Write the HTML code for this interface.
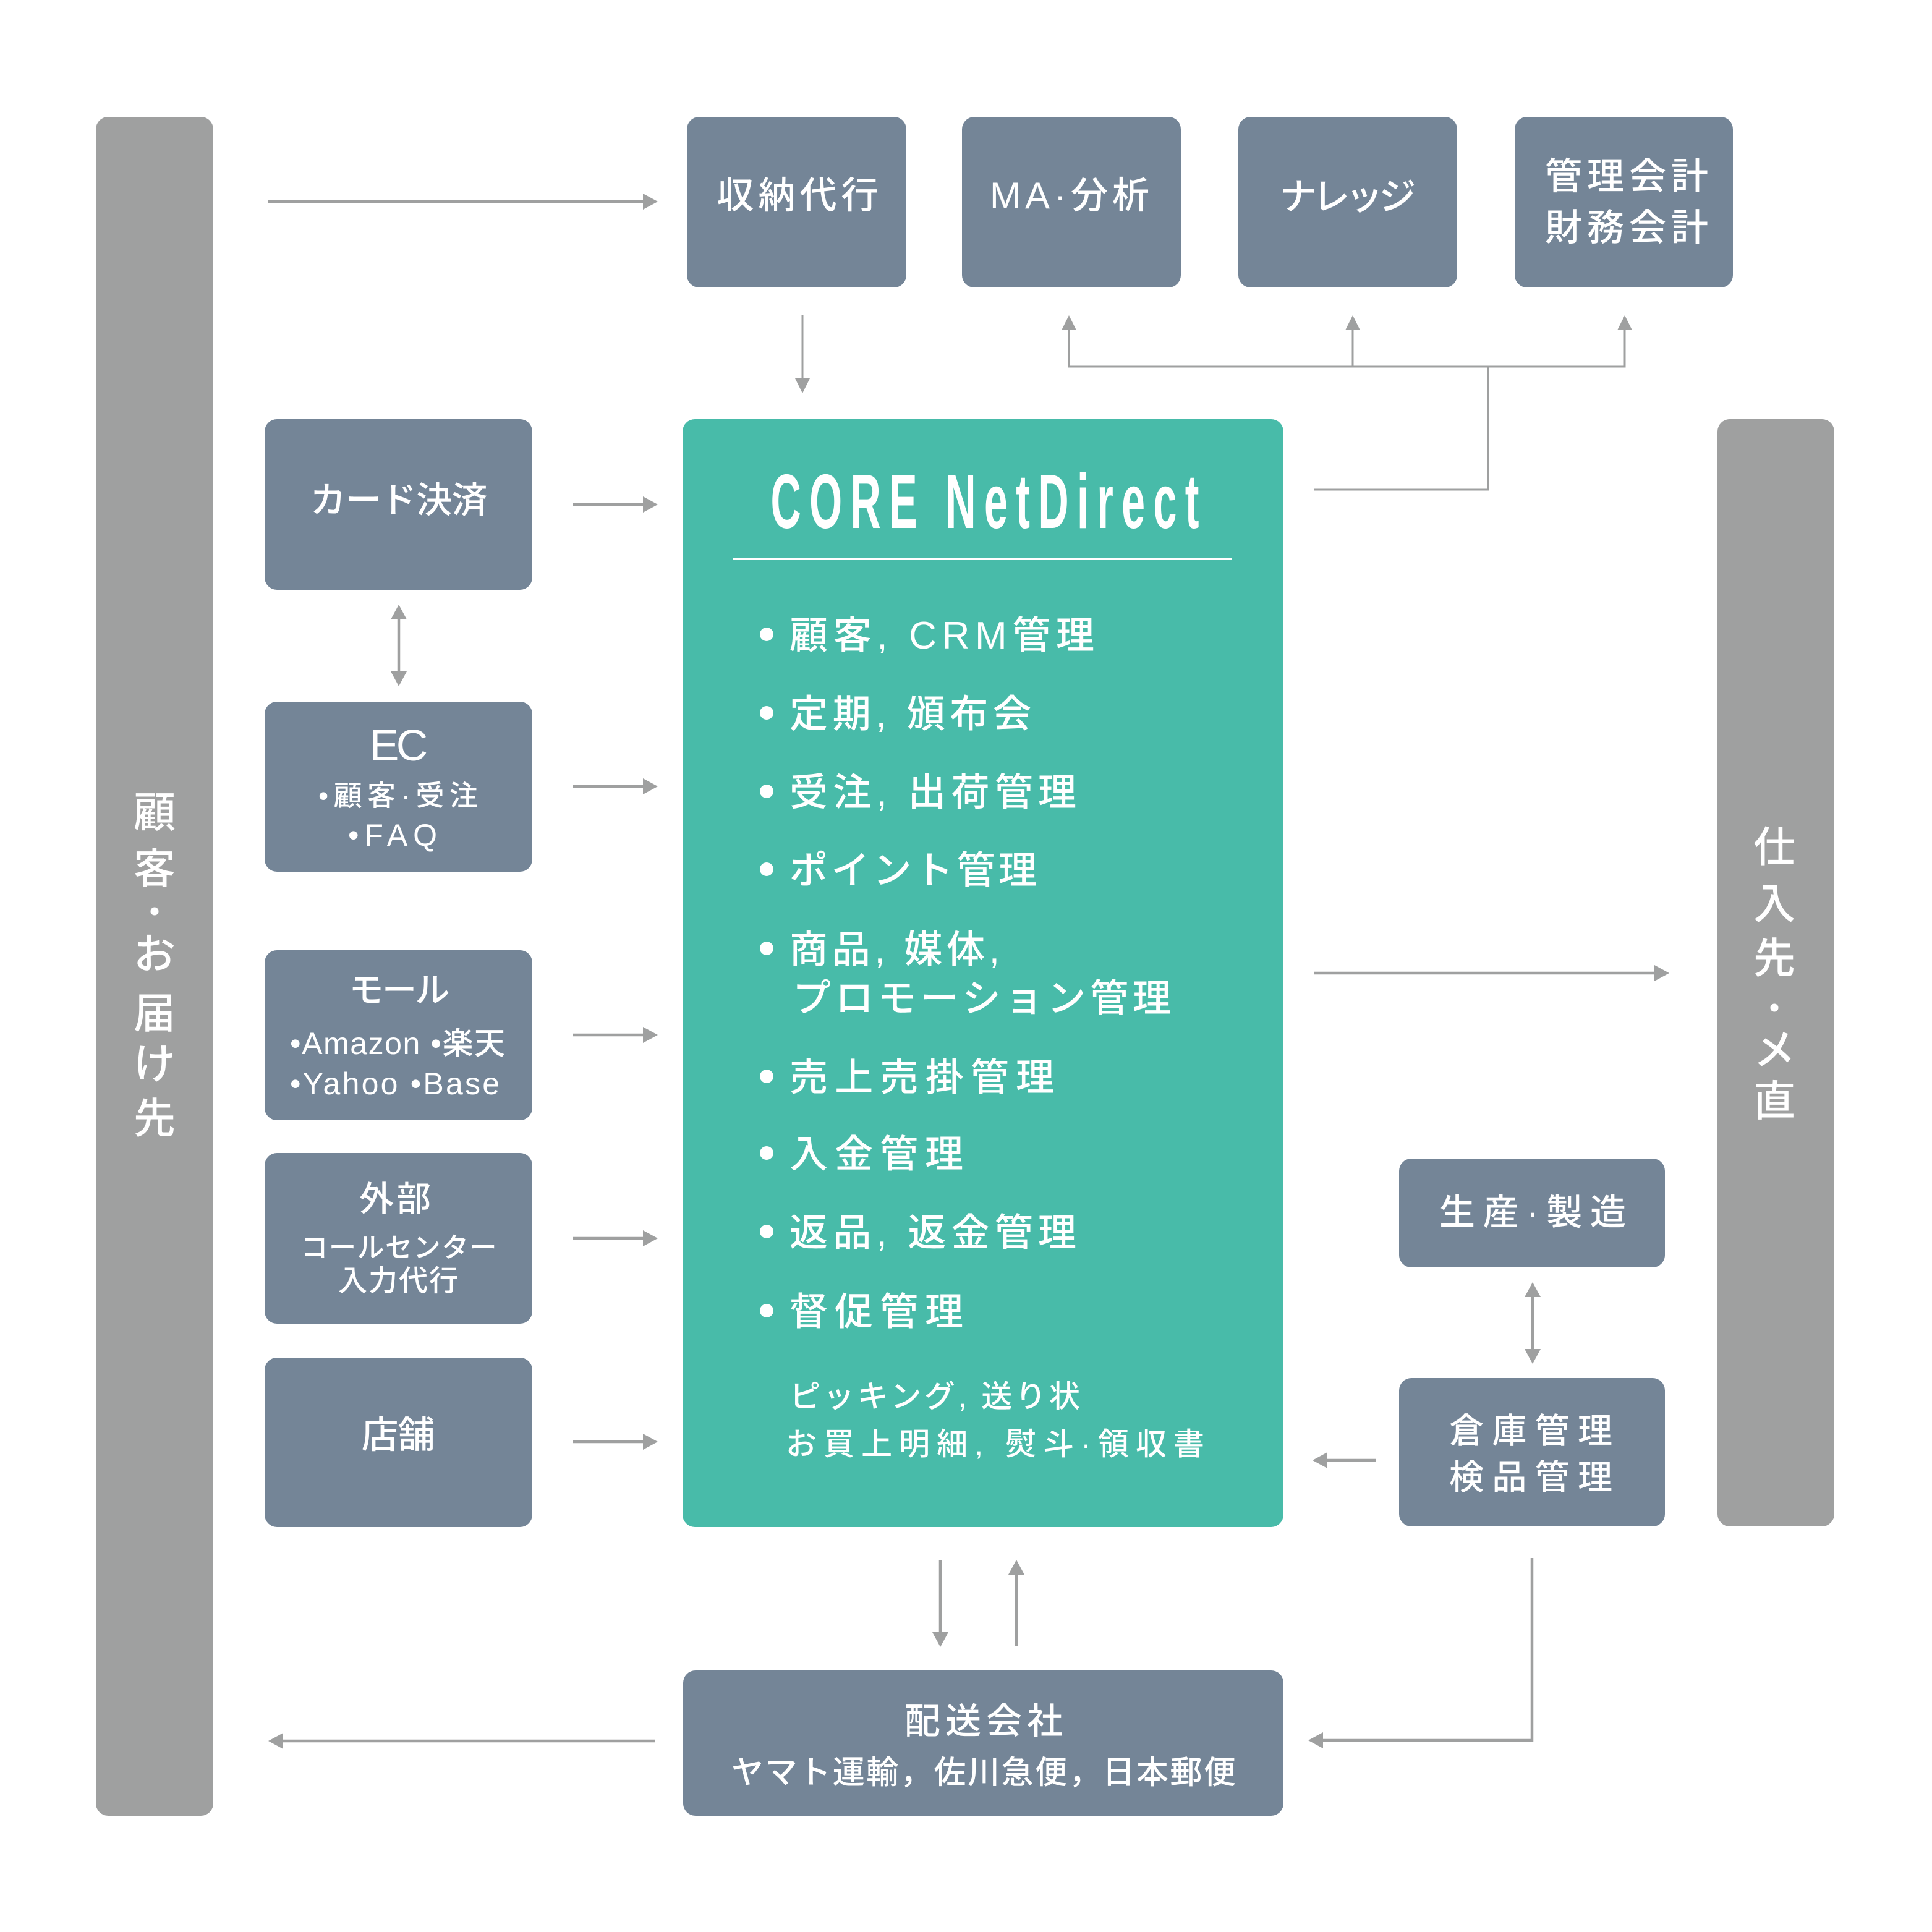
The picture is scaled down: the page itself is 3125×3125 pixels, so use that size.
<!DOCTYPE html>
<html lang="ja">
<head>
<meta charset="utf-8">
<style>
  html,body{margin:0;padding:0;background:#fff;}
  svg{display:block;}
  .t{font-family:"Liberation Sans","Noto Sans CJK JP",sans-serif;fill:#fff;font-weight:500;}
  .ttl{font-family:"Liberation Sans",sans-serif;fill:#fff;font-weight:bold;}
</style>
</head>
<body>
<svg width="3125" height="3125" viewBox="0 0 3125 3125" xmlns="http://www.w3.org/2000/svg">
  <rect width="3125" height="3125" fill="#ffffff"/>

  <!-- side bars -->
  <rect x="155" y="189" width="190" height="2748" rx="20" fill="#9fa0a0"/>
  <rect x="2778" y="678" width="189" height="1791" rx="20" fill="#9fa0a0"/>

  <!-- slate boxes -->
  <g fill="#748597">
    <rect x="1111" y="189" width="355" height="276" rx="20"/>
    <rect x="1556" y="189" width="354" height="276" rx="20"/>
    <rect x="2003" y="189" width="354" height="276" rx="20"/>
    <rect x="2450" y="189" width="353" height="276" rx="20"/>

    <rect x="428" y="678" width="433" height="276" rx="20"/>
    <rect x="428" y="1135" width="433" height="275" rx="20"/>
    <rect x="428" y="1537" width="433" height="275" rx="20"/>
    <rect x="428" y="1865" width="433" height="276" rx="20"/>
    <rect x="428" y="2196" width="433" height="274" rx="20"/>

    <rect x="2263" y="1874" width="430" height="176" rx="20"/>
    <rect x="2263" y="2229" width="430" height="240" rx="20"/>

    <rect x="1105" y="2702" width="971" height="235" rx="20"/>
  </g>

  <!-- core box -->
  <rect x="1104" y="678" width="972" height="1792" rx="20" fill="#48bba9"/>

  <!-- connectors -->
  <g stroke="#9fa0a0" stroke-width="4.5" fill="none">
    <line x1="434" y1="326" x2="1042" y2="326"/>
    <line x1="927" y1="816" x2="1042" y2="816"/>
    <line x1="927" y1="1272" x2="1042" y2="1272"/>
    <line x1="927" y1="1674" x2="1042" y2="1674"/>
    <line x1="927" y1="2003" x2="1042" y2="2003"/>
    <line x1="927" y1="2332" x2="1042" y2="2332"/>
    <line x1="645" y1="1000" x2="645" y2="1088"/>
    <line x1="2125" y1="1574" x2="2678" y2="1574"/>
    <line x1="2479" y1="2096" x2="2479" y2="2184"/>
    <line x1="2226" y1="2362" x2="2145" y2="2362"/>
    <line x1="1521" y1="2523" x2="1521" y2="2642"/>
    <line x1="1644" y1="2663" x2="1644" y2="2545"/>
    <polyline points="2478,2520 2478,2815 2138,2815"/>
    <line x1="1060" y1="2816" x2="456" y2="2816"/>
  </g>
  <g stroke="#9fa0a0" stroke-width="3" fill="none">
    <line x1="1298" y1="510" x2="1298" y2="614"/>
    <polyline points="1729,532 1729,593 2628,593 2628,532"/>
    <line x1="2188" y1="593" x2="2188" y2="532"/>
    <polyline points="2407,593 2407,792 2125,792"/>
  </g>
  <g fill="#9fa0a0">
    <polygon points="1064,326 1040,313 1040,339"/>
    <polygon points="1064,816 1040,803 1040,829"/>
    <polygon points="1064,1272 1040,1259 1040,1285"/>
    <polygon points="1064,1674 1040,1661 1040,1687"/>
    <polygon points="1064,2003 1040,1990 1040,2016"/>
    <polygon points="1064,2332 1040,2319 1040,2345"/>
    <polygon points="645,978 632,1002 658,1002"/>
    <polygon points="645,1110 632,1086 658,1086"/>
    <polygon points="1298,636 1286,612 1310,612"/>
    <polygon points="1729,510 1717,534 1741,534"/>
    <polygon points="2188,510 2176,534 2200,534"/>
    <polygon points="2628,510 2616,534 2640,534"/>
    <polygon points="2700,1574 2676,1561 2676,1587"/>
    <polygon points="2479,2074 2466,2098 2492,2098"/>
    <polygon points="2479,2206 2466,2182 2492,2182"/>
    <polygon points="2123,2362 2147,2349 2147,2375"/>
    <polygon points="1521,2664 1508,2640 1534,2640"/>
    <polygon points="1644,2523 1631,2547 1657,2547"/>
    <polygon points="2116,2815 2140,2802 2140,2828"/>
    <polygon points="434,2816 458,2803 458,2829"/>
  </g>

  <!-- top box texts -->
  <text class="t" x="1290" y="337" font-size="60" text-anchor="middle" textLength="261" lengthAdjust="spacing">収納代行</text>
  <text class="t" x="1730" y="337" font-size="60" text-anchor="middle" textLength="258" lengthAdjust="spacing">MA·分析</text>
  <text class="t" x="2180" y="339" font-size="60" text-anchor="middle" textLength="221" lengthAdjust="spacing">ナレッジ</text>
  <text class="t" x="2631" y="306" font-size="60" text-anchor="middle" textLength="264" lengthAdjust="spacing">管理会計</text>
  <text class="t" x="2631" y="389" font-size="60" text-anchor="middle" textLength="264" lengthAdjust="spacing">財務会計</text>

  <!-- left box texts -->
  <text class="t" x="645" y="829" font-size="58" text-anchor="middle" textLength="287" lengthAdjust="spacing">カード決済</text>

  <text class="t" x="645" y="1230" font-size="71" text-anchor="middle" textLength="94" lengthAdjust="spacing" font-weight="400">EC</text>
  <text class="t" x="644" y="1303" font-size="46" text-anchor="middle" textLength="258" lengthAdjust="spacing">•顧客·受注</text>
  <text class="t" x="635" y="1368" font-size="50" text-anchor="middle" textLength="144" lengthAdjust="spacing" font-weight="400">•FAQ</text>

  <text class="t" x="646" y="1621" font-size="56" text-anchor="middle" textLength="163" lengthAdjust="spacing">モール</text>
  <text class="t" x="469" y="1705" font-size="50" textLength="348" lengthAdjust="spacing" font-weight="400">•Amazon •楽天</text>
  <text class="t" x="469" y="1770" font-size="50" textLength="339" lengthAdjust="spacing" font-weight="400">•Yahoo •Base</text>

  <text class="t" x="639" y="1959" font-size="56" text-anchor="middle" textLength="116" lengthAdjust="spacing">外部</text>
  <text class="t" x="645" y="2033" font-size="44" text-anchor="middle" textLength="317" lengthAdjust="spacing">コールセンター</text>
  <text class="t" x="644" y="2088" font-size="47" text-anchor="middle" textLength="194" lengthAdjust="spacing">入力代行</text>

  <text class="t" x="644" y="2342" font-size="60" text-anchor="middle" textLength="119" lengthAdjust="spacing">店舗</text>

  <!-- core content -->
  <g transform="translate(1593,854) scale(0.55,1)">
    <text class="ttl" x="0" y="0" font-size="124" text-anchor="middle" textLength="1260" lengthAdjust="spacing">CORE NetDirect</text>
  </g>
  <rect x="1185" y="902" width="807" height="3" fill="#ffffff"/>

  <g fill="#ffffff">
    <circle cx="1240" cy="1026" r="11"/>
    <circle cx="1240" cy="1153" r="11"/>
    <circle cx="1240" cy="1280" r="11"/>
    <circle cx="1240" cy="1406" r="11"/>
    <circle cx="1240" cy="1534" r="11"/>
    <circle cx="1240" cy="1741" r="11"/>
    <circle cx="1240" cy="1865" r="11"/>
    <circle cx="1240" cy="1992" r="11"/>
    <circle cx="1240" cy="2120" r="11"/>
  </g>
  <text class="t" x="1277" y="1049" font-size="62" textLength="493" lengthAdjust="spacing">顧客, CRM管理</text>
  <text class="t" x="1277" y="1176" font-size="62" textLength="391" lengthAdjust="spacing">定期, 頒布会</text>
  <text class="t" x="1277" y="1303" font-size="62" textLength="464" lengthAdjust="spacing">受注, 出荷管理</text>
  <text class="t" x="1277" y="1429" font-size="62" textLength="400" lengthAdjust="spacing">ポイント管理</text>
  <text class="t" x="1277" y="1557" font-size="62" textLength="340" lengthAdjust="spacing">商品, 媒体,</text>
  <text class="t" x="1282" y="1636" font-size="62" textLength="612" lengthAdjust="spacing">プロモーション管理</text>
  <text class="t" x="1277" y="1764" font-size="62" textLength="428" lengthAdjust="spacing">売上売掛管理</text>
  <text class="t" x="1277" y="1888" font-size="62" textLength="281" lengthAdjust="spacing">入金管理</text>
  <text class="t" x="1277" y="2015" font-size="62" textLength="464" lengthAdjust="spacing">返品, 返金管理</text>
  <text class="t" x="1277" y="2143" font-size="62" textLength="281" lengthAdjust="spacing">督促管理</text>
  <text class="t" x="1277" y="2276" font-size="50" textLength="470" lengthAdjust="spacing">ピッキング, 送り状</text>
  <text class="t" x="1271" y="2353" font-size="50" textLength="677" lengthAdjust="spacing">お買上明細, 熨斗·領収書</text>

  <!-- right boxes -->
  <text class="t" x="2479" y="1981" font-size="58" text-anchor="middle" textLength="302" lengthAdjust="spacing">生産·製造</text>
  <text class="t" x="2476" y="2334" font-size="56" text-anchor="middle" textLength="264" lengthAdjust="spacing">倉庫管理</text>
  <text class="t" x="2476" y="2409" font-size="56" text-anchor="middle" textLength="264" lengthAdjust="spacing">検品管理</text>

  <!-- delivery box -->
  <text class="t" x="1591" y="2804" font-size="58" text-anchor="middle" textLength="256" lengthAdjust="spacing">配送会社</text>
  <text class="t" x="1591" y="2885" font-size="52" text-anchor="middle" textLength="816" lengthAdjust="spacing">ヤマト運輸，佐川急便，日本郵便</text>

  <!-- left bar vertical text -->
  <g class="t" font-size="68" text-anchor="middle">
    <text x="250" y="1338">顧</text>
    <text x="250" y="1429">客</text>
    <text x="250" y="1567">お</text>
    <text x="250" y="1663">届</text>
    <text x="250" y="1745">け</text>
    <text x="250" y="1833">先</text>
  </g>
  <circle cx="250" cy="1474" r="6.5" fill="#ffffff"/>

  <!-- right bar vertical text -->
  <g class="t" font-size="68" text-anchor="middle">
    <text x="2870" y="1394">仕</text>
    <text x="2870" y="1486">入</text>
    <text x="2870" y="1574">先</text>
    <text x="2870" y="1722">メ</text>
    <text x="2870" y="1805">直</text>
  </g>
  <circle cx="2870" cy="1630" r="6.5" fill="#ffffff"/>
</svg>
</body>
</html>
